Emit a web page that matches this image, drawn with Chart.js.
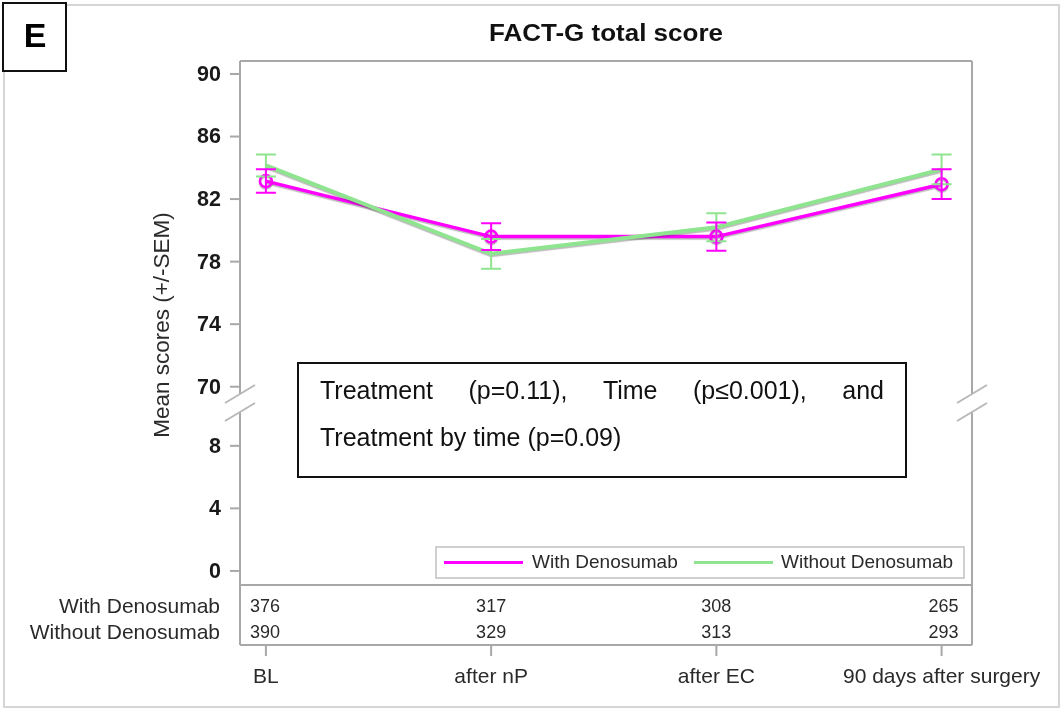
<!DOCTYPE html>
<html><head><meta charset="utf-8">
<script src="https://cdn.jsdelivr.net/npm/chart.js@4.4.1/dist/chart.umd.min.js"></script>
<style>html,body{margin:0;padding:0;background:#fff;}#wrap{width:1064px;height:713px;position:relative;}</style>
</head><body><div id="wrap"><canvas id="c" width="1064" height="713"></canvas></div>
<script>
// ---- data ----
const categories = ['BL', 'after nP', 'after EC', '90 days after surgery'];
const seriesNames = ['With Denosumab', 'Without Denosumab'];
const withDenoMean = [83.15, 79.6, 79.6, 82.95];
const withDenoSEM = [0.75, 0.85, 0.9, 0.95];
const withoutDenoMean = [84.15, 78.5, 80.2, 83.9];
const withoutDenoSEM = [0.7, 0.95, 0.9, 0.95];
const withDenoN = [376, 317, 308, 265];
const withoutDenoN = [390, 329, 313, 293];
const yTicksLower = [0, 4, 8];
const yTicksUpper = [70, 74, 78, 82, 86, 90];
const annotationLine1 = ['Treatment', '(p=0.11),', 'Time', '(p\u22640.001),', 'and'];
const annotationLine2 = 'Treatment by time (p=0.09)';
const chartTitle = 'FACT-G total score';
const yTitle = 'Mean scores (+/-SEM)';
const panelLabel = 'E';

// broken axis: values >= 70 shifted down onto a compressed scale
const BREAK_FROM = 70, BREAK_OFFSET = 11.78, BREAK_CENTER = 10.74;
function toAxis(v) { return v >= 50 ? v - BREAK_FROM + BREAK_OFFSET : v; }

const COL_WITH = '#ff00ff';
const COL_WITHOUT = '#8fe48f';
const FONT = '"Liberation Sans", Arial, sans-serif';

function txt(ctx, s, x, y, font, align, color, sx) {
  ctx.save();
  ctx.font = font; ctx.textAlign = align || 'left';
  ctx.textBaseline = 'middle'; ctx.fillStyle = color || '#222';
  ctx.translate(x, y);
  if (sx) ctx.scale(sx, 1);
  ctx.fillText(s, 0, 0);
  ctx.restore();
}

const decor = {
  id: 'decor',
  beforeDatasetsDraw(chart) {
    const ctx = chart.ctx, a = chart.chartArea, ys = chart.scales.y, xs = chart.scales.x;
    ctx.save();
    // outer border
    ctx.strokeStyle = '#d6d6d6'; ctx.lineWidth = 2;
    ctx.strokeRect(4, 5, 1055, 702);
    // frame
    const tableBottom = a.bottom + 60;
    const yb = ys.getPixelForValue(BREAK_CENTER);
    ctx.strokeStyle = '#a8a8a8'; ctx.lineWidth = 2;
    ctx.beginPath();
    ctx.moveTo(a.left, a.top); ctx.lineTo(a.right, a.top);
    ctx.moveTo(a.left, a.bottom); ctx.lineTo(a.right, a.bottom);
    ctx.moveTo(a.left, tableBottom); ctx.lineTo(a.right, tableBottom);
    [a.left, a.right].forEach(x => {
      ctx.moveTo(x, a.top); ctx.lineTo(x, yb - 9);
      ctx.moveTo(x, yb + 9); ctx.lineTo(x, tableBottom);
    });
    ctx.stroke();
    // break marks
    ctx.strokeStyle = '#b8b8b8'; ctx.lineWidth = 2;
    ctx.beginPath();
    [a.left, a.right].forEach(x => {
      [yb - 9, yb + 9].forEach(y => { ctx.moveTo(x - 15, y + 9); ctx.lineTo(x + 15, y - 9); });
    });
    ctx.stroke();
    // y ticks
    ctx.strokeStyle = '#a8a8a8'; ctx.lineWidth = 2;
    yTicksLower.concat(yTicksUpper).forEach(v => {
      const y = ys.getPixelForValue(toAxis(v));
      ctx.beginPath(); ctx.moveTo(a.left - 10, y); ctx.lineTo(a.left, y); ctx.stroke();
      txt(ctx, String(v), a.left - 19, y + 1, 'bold 21.5px ' + FONT, 'right', '#1a1a1a');
    });
    // x ticks and labels
    categories.forEach((c, i) => {
      const x = xs.getPixelForValue(i);
      ctx.beginPath(); ctx.moveTo(x, tableBottom); ctx.lineTo(x, tableBottom + 11); ctx.stroke();
      txt(ctx, c, x, tableBottom + 32, '21px ' + FONT, 'center', '#2a2a2a');
    });
    // table
    const rows = [withDenoN, withoutDenoN];
    rows.forEach((r, ri) => {
      const y = a.bottom + 22 + ri * 26;
      txt(ctx, seriesNames[ri], a.left - 20, y, '21px ' + FONT, 'right', '#2a2a2a');
      r.forEach((n, i) => {
        const x = xs.getPixelForValue(i);
        let al = 'center', xx = x;
        if (i === 0) { al = 'left'; xx = x - 16; }
        else if (i === r.length - 1) { al = 'right'; xx = x + 17; }
        txt(ctx, String(n), xx, y, '18px ' + FONT, al, '#2a2a2a');
      });
    });
    // y title
    ctx.save();
    ctx.translate(163, (a.top + tableBottom) / 2 - 28);
    ctx.rotate(-Math.PI / 2);
    txt(ctx, yTitle, 0, 0, '22.5px ' + FONT, 'center', '#2a2a2a');
    ctx.restore();
    // title
    txt(ctx, chartTitle, (a.left + a.right) / 2, 35, 'bold 23px ' + FONT, 'center', '#111', 1.13);
    // panel label
    ctx.fillStyle = '#fff'; ctx.fillRect(3, 3, 63, 68);
    ctx.strokeStyle = '#111'; ctx.lineWidth = 2; ctx.strokeRect(3, 3, 63, 68);
    txt(ctx, panelLabel, 35, 38, 'bold 34px ' + FONT, 'center', '#000');
    ctx.restore();
    // line shadow
    ctx.save();
    ctx.shadowColor = 'rgba(60,60,60,0.35)'; ctx.shadowOffsetY = 1.5; ctx.shadowBlur = 1;
  },
  afterDatasetsDraw(chart) {
    const ctx = chart.ctx, a = chart.chartArea, ys = chart.scales.y, xs = chart.scales.x;
    ctx.restore();
    ctx.save();
    // error bars
    const series = [[withoutDenoMean, withoutDenoSEM, COL_WITHOUT], [withDenoMean, withDenoSEM, COL_WITH]];
    series.forEach(([m, s, col]) => {
      ctx.strokeStyle = col; ctx.lineWidth = 2;
      m.forEach((v, i) => {
        const x = xs.getPixelForValue(i);
        const yt = ys.getPixelForValue(toAxis(v + s[i]));
        const ybt = ys.getPixelForValue(toAxis(v - s[i]));
        ctx.beginPath();
        ctx.moveTo(x, yt); ctx.lineTo(x, ybt);
        ctx.moveTo(x - 10, yt); ctx.lineTo(x + 10, yt);
        ctx.moveTo(x - 10, ybt); ctx.lineTo(x + 10, ybt);
        ctx.stroke();
      });
    });
    // annotation box
    const bx = 298, by = 363, bw = 608, bh = 114;
    ctx.fillStyle = '#fff'; ctx.fillRect(bx, by, bw, bh);
    ctx.strokeStyle = '#111'; ctx.lineWidth = 2; ctx.strokeRect(bx, by, bw, bh);
    const f = '25px ' + FONT;
    ctx.font = f;
    const x0 = bx + 22, x1 = bx + bw - 22;
    const widths = annotationLine1.map(w => ctx.measureText(w).width);
    const tot = widths.reduce((p, q) => p + q, 0);
    const gap = (x1 - x0 - tot) / (annotationLine1.length - 1);
    let xx = x0;
    annotationLine1.forEach((w, i) => { txt(ctx, w, xx, by + 29, f, 'left', '#111'); xx += widths[i] + gap; });
    txt(ctx, annotationLine2, x0, by + 76, f, 'left', '#111');
    // legend
    const lx = 436, ly = 547, lw = 528, lh = 31;
    ctx.fillStyle = '#fff'; ctx.fillRect(lx, ly, lw, lh);
    ctx.strokeStyle = '#c0c0c0'; ctx.lineWidth = 1.5; ctx.strokeRect(lx, ly, lw, lh);
    const items = [[COL_WITH, 444, 532], [COL_WITHOUT, 694, 781]];
    items.forEach(([col, xl, xt], i) => {
      ctx.strokeStyle = col; ctx.lineWidth = 3;
      ctx.beginPath(); ctx.moveTo(xl, ly + 15.5); ctx.lineTo(xl + 79, ly + 15.5); ctx.stroke();
      txt(ctx, seriesNames[i], xt, ly + 16, '19px ' + FONT, 'left', '#2a2a2a');
    });
    ctx.restore();
  }
};

new Chart(document.getElementById('c'), {
  type: 'line',
  data: {
    datasets: [
      {
        label: seriesNames[0],
        data: withDenoMean.map((v, i) => ({ x: i, y: toAxis(v) })),
        borderColor: COL_WITH, borderWidth: 3.5, tension: 0,
        pointRadius: 6, pointBorderWidth: 2.5, pointBorderColor: COL_WITH,
        pointBackgroundColor: 'rgba(255,255,255,0)', order: 1
      },
      {
        label: seriesNames[1],
        data: withoutDenoMean.map((v, i) => ({ x: i, y: toAxis(v) })),
        borderColor: COL_WITHOUT, borderWidth: 4, tension: 0,
        pointRadius: 0, order: 0
      }
    ]
  },
  options: {
    responsive: false, animation: false, devicePixelRatio: 1,
    layout: { padding: { left: 240, top: 61, right: 92, bottom: 128 } },
    scales: {
      x: { type: 'linear', display: false, min: -0.115, max: 3.135 },
      y: { type: 'linear', display: false, min: -0.9, max: 32.61 }
    },
    plugins: { legend: { display: false }, tooltip: { enabled: false }, title: { display: false } }
  },
  plugins: [decor]
});
</script>
</body></html>
